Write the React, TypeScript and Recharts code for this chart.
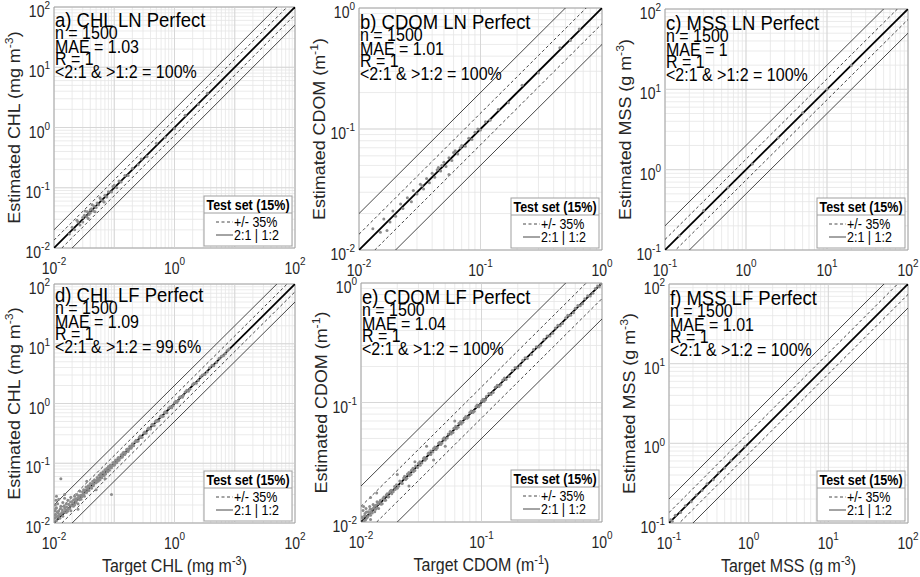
import React from 'react';
import { ScatterChart, Scatter, XAxis, YAxis, CartesianGrid, ReferenceLine, ReferenceArea } from 'recharts';

const FONT = '"Liberation Sans", Arial, Helvetica, sans-serif';
const VS = 1.12; // vertical stretch of glyphs seen in the reference

// ---------- data ----------
const chlLnPoints: number[][] = [
  [0.018, 0.017], [0.02, 0.022], [0.022, 0.02], [0.024, 0.029], [0.025, 0.027], [0.027, 0.024], [0.03, 0.032],
  [0.03, 0.027], [0.032, 0.035], [0.035, 0.033], [0.036, 0.04], [0.038, 0.036], [0.04, 0.043], [0.04, 0.038],
  [0.042, 0.045], [0.045, 0.041], [0.046, 0.05], [0.05, 0.047], [0.052, 0.056], [0.055, 0.052], [0.06, 0.064],
  [0.065, 0.06], [0.07, 0.075], [0.075, 0.07], [0.08, 0.086], [0.09, 0.085], [0.1, 0.11], [0.11, 0.1],
  [0.12, 0.13], [0.13, 0.125], [0.15, 0.16], [0.17, 0.16], [0.2, 0.21], [0.25, 0.24], [0.28, 0.3],
  [0.35, 0.33], [0.5, 0.55], [0.7, 0.68], [1.0, 0.95], [1.5, 1.6], [2.5, 2.4], [3.5, 3.7],
  [0.033, 0.041], [0.037, 0.031], [0.043, 0.052], [0.048, 0.04], [0.058, 0.068], [0.068, 0.058], [0.095, 0.105],
];
const cdomLnPoints: number[][] = [
  [0.013, 0.015], [0.015, 0.014], [0.016, 0.018], [0.017, 0.0145], [0.018, 0.017], [0.019, 0.021], [0.02, 0.019],
  [0.022, 0.024], [0.023, 0.022], [0.025, 0.027], [0.027, 0.025], [0.028, 0.031], [0.03, 0.029], [0.032, 0.035],
  [0.034, 0.032], [0.036, 0.039], [0.038, 0.036], [0.04, 0.043], [0.042, 0.04], [0.045, 0.048], [0.047, 0.045],
  [0.05, 0.053], [0.052, 0.049], [0.055, 0.058], [0.055, 0.042], [0.058, 0.055], [0.06, 0.064], [0.065, 0.062],
  [0.07, 0.073], [0.075, 0.072], [0.08, 0.084], [0.085, 0.082], [0.09, 0.094], [0.1, 0.098], [0.11, 0.115],
  [0.12, 0.118], [0.14, 0.145], [0.17, 0.165], [0.22, 0.23], [0.3, 0.29], [0.45, 0.47], [0.55, 0.54], [0.65, 0.67],
  [0.044, 0.046], [0.048, 0.05], [0.062, 0.066], [0.068, 0.07], [0.095, 0.1], [0.033, 0.034],
];
const mssLnPoints: number[][] = [
  [0.15, 0.15], [0.3, 0.31], [0.6, 0.6], [1.2, 1.18], [2.5, 2.5], [5, 5.1], [10, 10], [20, 19.8],
];
const chlLfPoints: number[][] = [
  [0.0102, 0.012], [0.0103, 0.016], [0.0105, 0.02], [0.0106, 0.014], [0.0108, 0.024], [0.011, 0.011],
  [0.011, 0.018], [0.0115, 0.013], [0.0115, 0.021], [0.012, 0.016], [0.012, 0.025], [0.0125, 0.012],
  [0.013, 0.019], [0.013, 0.055], [0.0135, 0.015], [0.014, 0.022], [0.014, 0.013], [0.015, 0.018],
  [0.015, 0.026], [0.016, 0.015], [0.016, 0.021], [0.017, 0.024], [0.017, 0.017], [0.018, 0.02],
  [0.019, 0.027], [0.019, 0.016], [0.02, 0.023], [0.021, 0.019], [0.022, 0.028], [0.023, 0.022],
  [0.024, 0.03], [0.025, 0.021], [0.026, 0.027], [0.027, 0.034], [0.028, 0.025], [0.03, 0.03], [0.031, 0.036],
  [0.032, 0.028], [0.034, 0.04], [0.035, 0.033], [0.037, 0.042], [0.038, 0.035], [0.04, 0.046], [0.042, 0.038],
  [0.044, 0.05], [0.045, 0.042], [0.047, 0.053], [0.05, 0.047], [0.052, 0.058], [0.054, 0.05], [0.056, 0.063],
  [0.058, 0.053], [0.06, 0.068], [0.062, 0.057], [0.065, 0.072], [0.068, 0.062], [0.07, 0.078], [0.072, 0.066],
  [0.075, 0.082], [0.078, 0.072], [0.08, 0.088], [0.083, 0.076], [0.086, 0.093], [0.09, 0.03], [0.09, 0.084],
  [0.095, 0.102], [0.1, 0.093], [0.105, 0.112], [0.11, 0.102], [0.115, 0.123], [0.12, 0.112], [0.13, 0.138],
  [0.135, 0.126], [0.14, 0.15], [0.15, 0.14], [0.16, 0.17], [0.17, 0.158], [0.18, 0.19], [0.19, 0.178],
  [0.2, 0.212], [0.21, 0.196], [0.23, 0.243], [0.25, 0.235], [0.27, 0.285], [0.29, 0.272],
  [0.32, 0.335], [0.34, 0.32], [0.37, 0.39], [0.4, 0.375], [0.43, 0.45], [0.46, 0.43], [0.5, 0.52],
  [0.55, 0.515], [0.6, 0.625], [0.65, 0.61], [0.7, 0.73], [0.75, 0.7], [0.8, 0.84], [0.9, 0.85], [1.0, 1.04],
  [1.1, 1.03], [1.2, 1.26], [1.35, 1.27], [1.5, 1.56], [1.7, 1.6], [2.0, 2.08], [2.3, 2.18], [2.7, 2.8],
  [3.2, 3.05], [3.8, 3.95], [4.5, 4.3], [5.5, 5.7], [6.5, 6.3], [7.5, 7.7],
  [0.0101, 0.0105], [0.0104, 0.0135], [0.0107, 0.0175], [0.0109, 0.0125], [0.0112, 0.0155], [0.0118, 0.0145],
  [0.0122, 0.0135], [0.0128, 0.0175], [0.0132, 0.0142], [0.0138, 0.0165], [0.0145, 0.0152], [0.0148, 0.0195],
  [0.0155, 0.0165], [0.0162, 0.0185], [0.0168, 0.0158], [0.0175, 0.0205], [0.0182, 0.0175], [0.0188, 0.0225],
  [0.0195, 0.0195], [0.0205, 0.0215], [0.0212, 0.0245], [0.022, 0.02], [0.0228, 0.0255], [0.0236, 0.0238],
  [0.0245, 0.026], [0.0255, 0.0285], [0.0265, 0.0245], [0.0275, 0.029], [0.029, 0.0275], [0.0298, 0.033],
  [0.0315, 0.031], [0.033, 0.0355], [0.0345, 0.0325], [0.036, 0.0385], [0.0375, 0.0362], [0.039, 0.0415],
  [0.041, 0.0395], [0.043, 0.0455], [0.046, 0.0448], [0.048, 0.0505], [0.051, 0.0495], [0.053, 0.0545],
  [0.057, 0.0555], [0.059, 0.0625], [0.063, 0.0615], [0.066, 0.0695], [0.069, 0.0675], [0.073, 0.0765],
  [0.077, 0.0745], [0.081, 0.0845], [0.085, 0.083], [0.088, 0.0925], [0.093, 0.0905], [0.098, 0.1025],
  [0.103, 0.099], [0.108, 0.1135], [0.113, 0.109], [0.118, 0.1245], [0.125, 0.1215], [0.132, 0.1385],
  [0.138, 0.1335], [0.145, 0.1525], [0.155, 0.1505], [0.165, 0.173], [0.175, 0.1695], [0.185, 0.1945],
  [0.195, 0.189], [0.22, 0.229], [0.24, 0.232], [0.26, 0.272], [0.28, 0.271], [0.31, 0.322], [0.33, 0.319],
  [0.36, 0.375], [0.39, 0.378], [0.42, 0.437], [0.45, 0.436], [0.48, 0.5], [0.52, 0.505], [0.58, 0.602],
  [0.62, 0.6], [0.68, 0.705], [0.72, 0.698], [0.85, 0.88], [0.95, 0.92], [1.05, 1.09], [1.15, 1.11],
  [1.25, 1.3], [1.4, 1.36], [1.6, 1.66], [1.8, 1.74], [2.1, 2.18], [2.5, 2.42], [2.9, 3.0], [3.5, 3.38],
  [4.2, 4.35], [5.0, 4.85], [6.0, 6.2], [7.0, 6.8], [8.0, 8.2],
  [0.011, 0.028], [0.015, 0.03], [0.025, 0.017], [0.035, 0.05], [0.05, 0.036], [0.07, 0.055],
];
const cdomLfPoints: number[][] = [
  [0.0102, 0.011], [0.0104, 0.0125], [0.0106, 0.0102], [0.0108, 0.0118], [0.011, 0.013], [0.0112, 0.0108],
  [0.0115, 0.0122], [0.0118, 0.0135], [0.012, 0.0114], [0.0123, 0.0128], [0.0126, 0.014], [0.013, 0.0122],
  [0.0133, 0.0138], [0.0136, 0.0148], [0.014, 0.013], [0.0145, 0.0152], [0.015, 0.0142], [0.0155, 0.0162],
  [0.016, 0.0152], [0.0165, 0.0172], [0.017, 0.0163], [0.0175, 0.0182], [0.018, 0.0172], [0.019, 0.0198],
  [0.02, 0.0192], [0.021, 0.022], [0.022, 0.021], [0.023, 0.0242], [0.024, 0.0232], [0.025, 0.026],
  [0.026, 0.025], [0.027, 0.0282], [0.028, 0.027], [0.03, 0.031], [0.031, 0.0298], [0.033, 0.034],
  [0.034, 0.0328], [0.036, 0.0372], [0.038, 0.0368], [0.04, 0.0412], [0.042, 0.0405], [0.044, 0.0455],
  [0.046, 0.0445], [0.048, 0.0495], [0.05, 0.0485], [0.053, 0.0545], [0.056, 0.0545], [0.059, 0.061],
  [0.062, 0.0602], [0.065, 0.067], [0.068, 0.066], [0.072, 0.074], [0.076, 0.0738], [0.08, 0.0825],
  [0.085, 0.0825], [0.09, 0.0928], [0.095, 0.0922], [0.1, 0.103], [0.105, 0.102], [0.11, 0.113],
  [0.12, 0.1165], [0.13, 0.134], [0.14, 0.136], [0.15, 0.154], [0.16, 0.156], [0.18, 0.185], [0.2, 0.194],
  [0.22, 0.226], [0.24, 0.233], [0.27, 0.277], [0.3, 0.292], [0.33, 0.339], [0.37, 0.36], [0.41, 0.42],
  [0.45, 0.438], [0.5, 0.512], [0.55, 0.536], [0.6, 0.615], [0.66, 0.645], [0.72, 0.738], [0.8, 0.78],
  [0.88, 0.9], [0.95, 0.93], [0.98, 0.99],
  [0.0101, 0.0098], [0.0103, 0.0108], [0.0107, 0.0113], [0.0109, 0.0104], [0.0111, 0.0121], [0.0114, 0.0111],
  [0.0117, 0.0119], [0.0119, 0.0128], [0.0121, 0.0121], [0.0124, 0.0119], [0.0127, 0.0131], [0.0129, 0.0136],
  [0.0132, 0.0128], [0.0135, 0.0131], [0.0138, 0.0142], [0.0142, 0.0146], [0.0147, 0.0141], [0.0152, 0.0157],
  [0.0157, 0.0152], [0.0162, 0.0168], [0.0168, 0.0162], [0.0173, 0.0177], [0.0178, 0.0184], [0.0185, 0.0179],
  [0.0192, 0.0187], [0.0197, 0.0205], [0.0205, 0.0199], [0.0212, 0.0218], [0.0218, 0.0212], [0.0226, 0.0233],
  [0.0235, 0.0227], [0.0243, 0.0252], [0.0252, 0.0244], [0.0262, 0.0271], [0.0272, 0.0263], [0.0284, 0.0294],
  [0.0295, 0.0286], [0.0308, 0.0319], [0.032, 0.0312], [0.0335, 0.0346], [0.035, 0.034], [0.0365, 0.0378],
  [0.038, 0.0392], [0.0395, 0.0385], [0.041, 0.0425], [0.043, 0.0418], [0.045, 0.0466], [0.047, 0.0458],
  [0.049, 0.0508], [0.052, 0.0505], [0.055, 0.0572], [0.058, 0.0562], [0.061, 0.0632], [0.064, 0.0622],
  [0.067, 0.0695], [0.07, 0.0683], [0.074, 0.0765], [0.078, 0.0758], [0.082, 0.0848], [0.087, 0.0845],
  [0.092, 0.0952], [0.098, 0.0955], [0.103, 0.1065], [0.108, 0.1052], [0.115, 0.119], [0.125, 0.1215],
  [0.135, 0.1395], [0.145, 0.141], [0.155, 0.1605], [0.17, 0.165], [0.19, 0.196], [0.21, 0.204],
  [0.23, 0.237], [0.26, 0.252], [0.285, 0.293], [0.31, 0.301], [0.35, 0.361], [0.39, 0.379], [0.43, 0.443],
  [0.47, 0.458], [0.52, 0.536], [0.58, 0.565], [0.63, 0.648], [0.69, 0.672], [0.76, 0.782], [0.84, 0.82],
  [0.92, 0.945],
  [0.012, 0.016], [0.0135, 0.0175], [0.02, 0.025], [0.025, 0.02], [0.035, 0.043], [0.04, 0.033],
  [0.06, 0.07], [0.012, 0.0105], [0.0105, 0.0135], [0.028, 0.032], [0.05, 0.043],
];
const mssLfPoints: number[][] = [
  [0.105, 0.11], [0.11, 0.105], [0.12, 0.125], [0.14, 0.135], [0.16, 0.165], [0.19, 0.185], [0.22, 0.225],
  [0.26, 0.255], [0.3, 0.31], [0.36, 0.35], [0.42, 0.43], [0.5, 0.49], [0.6, 0.61], [0.75, 0.74], [0.9, 0.92],
];

const panelTitles = ['a) CHL LN Perfect', 'b) CDOM LN Perfect', 'c) MSS LN Perfect', 'd) CHL LF Perfect', 'e) CDOM LF Perfect', 'f) MSS LF Perfect'];
const panelN = ['1500', '1500', '1500', '1500', '1500', '1500'];
const panelMAE = ['1.03', '1.01', '1', '1.09', '1.04', '1.01'];
const panelR = ['1', '1', '1', '1', '1', '1'];
const panelWithin = ['100%', '100%', '100%', '99.6%', '100%', '100%'];

const chlDomain = [0.01, 100];
const cdomDomain = [0.01, 1];
const mssDomain = [0.1, 100];
const chlXTickLabels = [0.01, 1, 100];
const chlYTickLabels = [0.01, 0.1, 1, 10, 100];
const cdomTickLabels = [0.01, 0.1, 1];
const mssTickLabels = [0.1, 1, 10, 100];

const legendTitle = 'Test set (15%)';
const legendDashed = '+/- 35%';
const legendSolid = '2:1 | 1:2';
const band35 = 1.35;
const band2 = 2;

const chlUnit = { name: 'CHL', unit: 'mg m', sup: '-3' };
const cdomUnit = { name: 'CDOM', unit: 'm', sup: '-1' };
const mssUnit = { name: 'MSS', unit: 'g m', sup: '-3' };

// ---------- helpers ----------
const lg = (v: number) => Math.log10(v);
const isDecade = (v: number) => Math.abs(lg(v) - Math.round(lg(v))) < 1e-6;
const hasVal = (arr: number[], v: number) => arr.some((a) => Math.abs(lg(a) - lg(v)) < 1e-6);

function gridTicks(dom: number[]) {
  const out: number[] = [];
  for (let e = Math.round(lg(dom[0])); e <= Math.round(lg(dom[1])); e++) {
    for (let k = 1; k <= 9; k++) {
      const v = Number((k * Math.pow(10, e)).toPrecision(3));
      if (v >= dom[0] * 0.999 && v <= dom[1] * 1.001) out.push(v);
    }
  }
  return out;
}

const TICK_COLOR = '#262626';
const stretch = (x: number, y: number) => `translate(${x} ${y}) scale(1 ${VS})`;

const XTick = (props: any) => {
  const { x, y, payload, labels } = props;
  const v = payload.value;
  if (!hasVal(labels, v)) return <g />;
  const e = Math.round(lg(v));
  return (
    <text x={0} y={0} transform={stretch(x, y + 25.5)} textAnchor="middle" fontFamily={FONT} fill={TICK_COLOR} fontSize={14}>
      <tspan>10</tspan>
      <tspan dy={-7.5} fontSize={10}>{`${e}`}</tspan>
    </text>
  );
};

const YTick = (props: any) => {
  const { x, y, payload, labels } = props;
  const v = payload.value;
  if (!hasVal(labels, v)) return <g />;
  const e = Math.round(lg(v));
  return (
    <text x={0} y={0} transform={stretch(x - 4, y + 10)} textAnchor="end" fontFamily={FONT} fill={TICK_COLOR} fontSize={14}>
      <tspan>10</tspan>
      <tspan dy={-7} fontSize={10}>{`${e}`}</tspan>
    </text>
  );
};

const Dot = (p: any) => <circle cx={p.cx} cy={p.cy} r={1.5} fill="#8c8c8c" />;

type Panel = {
  idx: number;
  pts: number[][];
  dom: number[];
  xLabels: number[];
  yLabels: number[];
  unit: { name: string; unit: string; sup: string };
  left: number;
  top: number;
  w: number;
  h: number;
  bottomRow: boolean;
  textShift: number;
};

const panels: Panel[] = [
  { idx: 0, pts: chlLnPoints, dom: chlDomain, xLabels: chlXTickLabels, yLabels: chlYTickLabels, unit: chlUnit, left: 54, top: 7, w: 241, h: 241, bottomRow: false, textShift: -1 },
  { idx: 1, pts: cdomLnPoints, dom: cdomDomain, xLabels: cdomTickLabels, yLabels: cdomTickLabels, unit: cdomUnit, left: 359, top: 8, w: 243, h: 242, bottomRow: false, textShift: 0 },
  { idx: 2, pts: mssLnPoints, dom: mssDomain, xLabels: mssTickLabels, yLabels: mssTickLabels, unit: mssUnit, left: 665, top: 9, w: 243, h: 241, bottomRow: false, textShift: 0 },
  { idx: 3, pts: chlLfPoints, dom: chlDomain, xLabels: chlXTickLabels, yLabels: chlYTickLabels, unit: chlUnit, left: 54, top: 284, w: 241, h: 239, bottomRow: true, textShift: -3 },
  { idx: 4, pts: cdomLfPoints, dom: cdomDomain, xLabels: cdomTickLabels, yLabels: cdomTickLabels, unit: cdomUnit, left: 361, top: 283, w: 241, h: 239, bottomRow: true, textShift: 0 },
  { idx: 5, pts: mssLfPoints, dom: mssDomain, xLabels: mssTickLabels, yLabels: mssTickLabels, unit: mssUnit, left: 669, top: 284, w: 239, h: 239, bottomRow: true, textShift: 0 },
];

const Y_AXIS_W = 54;
const M_TOP = 7;
const M_RIGHT = 12;
const LINE_COLOR = '#333333';

function PanelChart({ p }: { p: Panel }) {
  const xAxisH = p.bottomRow ? 52 : 40;
  const width = Y_AXIS_W + p.w + M_RIGHT;
  const height = M_TOP + p.h + xAxisH;
  const [lo, hi] = p.dom;
  const ticks = gridTicks(p.dom);
  const majors = ticks.filter((t) => isDecade(t) && t > lo * 1.001 && t < hi * 0.999);
  const data = p.pts.map(([x, y]) => ({ x, y }));

  const yLabel = (props: any) => {
    const vb = props.viewBox || {};
    const cx = vb.x + vb.width - 34;
    const cy = vb.y + vb.height / 2;
    return (
      <text x={0} y={0} transform={`translate(${cx} ${cy}) rotate(-90) scale(${VS} 1)`} textAnchor="middle" fontFamily={FONT} fontSize={16} fill={TICK_COLOR}>
        <tspan>{`Estimated ${p.unit.name} (${p.unit.unit}`}</tspan>
        <tspan dy={-7} fontSize={11}>{p.unit.sup}</tspan>
        <tspan dy={7}>)</tspan>
      </text>
    );
  };
  const xLabel = (props: any) => {
    const vb = props.viewBox || {};
    const cx = vb.x + vb.width / 2;
    const cy = vb.y + 49;
    return (
      <text x={0} y={0} transform={stretch(cx, cy)} textAnchor="middle" fontFamily={FONT} fontSize={16} fill={TICK_COLOR}>
        <tspan>{`Target ${p.unit.name} (${p.unit.unit}`}</tspan>
        <tspan dy={-6.5} fontSize={11}>{p.unit.sup}</tspan>
        <tspan dy={6.5}>)</tspan>
      </text>
    );
  };

  const seg = (f: number) => [
    { x: lo, y: lo * f },
    { x: hi, y: hi * f },
  ];

  return (
    <div style={{ position: 'absolute', left: p.left - Y_AXIS_W, top: p.top - M_TOP, width, height }}>
      <ScatterChart width={width} height={height} margin={{ top: M_TOP, right: M_RIGHT, bottom: 0, left: 0 }}>
        <CartesianGrid stroke="#e6e6e6" strokeWidth={0.8} />
        <XAxis
          type="number"
          dataKey="x"
          scale="log"
          domain={p.dom}
          allowDataOverflow
          ticks={ticks}
          interval={0}
          tickLine={false}
          axisLine={false}
          tickSize={0}
          tickMargin={0}
          height={xAxisH}
          tick={(tp: any) => <XTick {...tp} labels={p.xLabels} />}
          label={p.bottomRow ? { content: xLabel } : undefined}
        />
        <YAxis
          type="number"
          dataKey="y"
          scale="log"
          domain={p.dom}
          allowDataOverflow
          ticks={ticks}
          interval={0}
          tickLine={false}
          axisLine={false}
          tickSize={0}
          tickMargin={0}
          width={Y_AXIS_W}
          tick={(tp: any) => <YTick {...tp} labels={p.yLabels} />}
          label={{ content: yLabel }}
        />
        {majors.map((m) => (
          <ReferenceLine key={`vx${m}`} x={m} stroke="#d2d2d2" strokeWidth={0.8} />
        ))}
        {majors.map((m) => (
          <ReferenceLine key={`hy${m}`} y={m} stroke="#d2d2d2" strokeWidth={0.8} />
        ))}
        <Scatter data={data} shape={Dot} isAnimationActive={false} />
        <ReferenceLine segment={seg(band2)} ifOverflow="hidden" stroke={LINE_COLOR} strokeWidth={0.9} />
        <ReferenceLine segment={seg(1 / band2)} ifOverflow="hidden" stroke={LINE_COLOR} strokeWidth={0.9} />
        <ReferenceLine segment={seg(band35)} ifOverflow="hidden" stroke={LINE_COLOR} strokeWidth={0.9} strokeDasharray="3 2.5" />
        <ReferenceLine segment={seg(1 / band35)} ifOverflow="hidden" stroke={LINE_COLOR} strokeWidth={0.9} strokeDasharray="3 2.5" />
        <ReferenceLine segment={seg(1)} ifOverflow="hidden" stroke="#000" strokeWidth={1.8} />
        <ReferenceArea x1={lo} x2={hi} y1={lo} y2={hi} fill="none" fillOpacity={0} stroke="#a0a0a0" strokeWidth={1} ifOverflow="visible" />
      </ScatterChart>
    </div>
  );
}

function Overlay() {
  return (
    <svg width={920} height={577} style={{ position: 'absolute', left: 0, top: 0, pointerEvents: 'none' }}>
      {panels.map((p) => {
        const tx = p.left + 1;
        const ty = p.top + p.textShift;
        const bx = p.left + p.w - 3 - 88;
        const by = p.top + p.h - 2 - 50;
        return (
          <g key={p.idx} fontFamily={FONT} fill="#000">
            <text x={0} y={0} transform={stretch(tx, ty + 20.5)} fontSize={18.5}>{panelTitles[p.idx]}</text>
            <text x={0} y={0} transform={stretch(tx, ty + 33)} fontSize={16}>{`n = ${panelN[p.idx]}`}</text>
            <text x={0} y={0} transform={stretch(tx, ty + 46.5)} fontSize={16}>{`MAE = ${panelMAE[p.idx]}`}</text>
            <text x={0} y={0} transform={stretch(tx, ty + 59)} fontSize={16}>{`R = ${panelR[p.idx]}`}</text>
            <text x={0} y={0} transform={stretch(tx, ty + 72)} fontSize={16}>{`<2:1 & >1:2 = ${panelWithin[p.idx]}`}</text>
            <rect x={bx} y={by} width={88} height={50} fill="#fff" stroke="#a0a0a0" strokeWidth={1} />
            <line x1={bx} x2={bx + 88} y1={by + 17} y2={by + 17} stroke="#a0a0a0" strokeWidth={1} />
            <text x={0} y={0} transform={stretch(bx + 44, by + 14)} fontSize={12.5} fontWeight="bold" textAnchor="middle">{legendTitle}</text>
            <line x1={bx + 12} x2={bx + 29} y1={by + 26} y2={by + 26} stroke={LINE_COLOR} strokeWidth={0.9} strokeDasharray="3 2.5" />
            <text x={0} y={0} transform={stretch(bx + 30, by + 30.5)} fontSize={12.5}>{legendDashed}</text>
            <line x1={bx + 12} x2={bx + 29} y1={by + 39} y2={by + 39} stroke={LINE_COLOR} strokeWidth={0.9} />
            <text x={0} y={0} transform={stretch(bx + 30, by + 43.5)} fontSize={12.5}>{legendSolid}</text>
          </g>
        );
      })}
    </svg>
  );
}

export default function App() {
  return (
    <div style={{ position: 'absolute', left: 0, top: 0, width: 920, height: 577, background: '#fff', overflow: 'hidden' }}>
      {panels.map((p) => (
        <PanelChart key={p.idx} p={p} />
      ))}
      <Overlay />
    </div>
  );
}
